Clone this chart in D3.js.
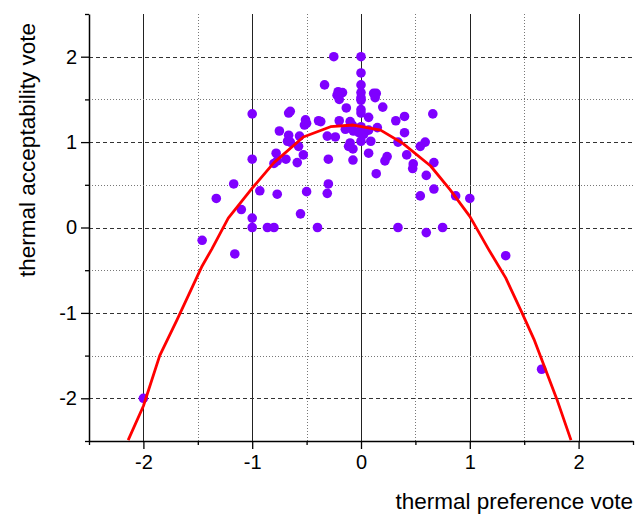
<!DOCTYPE html>
<html>
<head>
<meta charset="utf-8">
<script src="https://cdn.jsdelivr.net/npm/d3@7"></script>
<style>
  body { margin: 0; background: #fff; }
  svg { display: block; font-family: "Liberation Sans", Arial, sans-serif; }
</style>
</head>
<body>
<svg id="chart" width="635" height="516"></svg>
<script>
// thermal preference vote (x) / thermal acceptability vote (y)
const prefVote = [
  -0.25, 0, 0, 0, -0.335, -0.21, -0.17, -0.22, -0.2, 0,
  0, 0, -0.135, 0, 0, -1.0, -0.665, -0.65, 0.07, 0.116,
  0.14, 0.13, 0.2, 0.32, 0.40, 0.66, -0.51, -0.52, -0.50, -0.39,
  -0.37, -0.2, -0.1, -0.08, -0.144, -0.07, 0, -0.02, 0.024, 0.04,
  0.07, 0.15, -0.75, -0.665, -0.675, -0.65, -0.565, -0.574, -0.31, -0.236,
  0, -0.1, -0.114, -0.074, 0.09, 0.07, -0.074, 0.34, 0.40, 0.545,
  0.59, 0.42, 0.24, 0.22, 0.48, 0.475, 0.14, 0.67, 0.60, 0.67,
  0.545, 0.87, 1.0, 0.34, 0.60, 0.75, 1.33, 1.66, -1.0, -0.78,
  -0.80, -0.77, -0.69, -0.53, -0.586, -0.30, -1.17, -1.33, -0.93, -0.77,
  -0.50, -0.30, -0.31, -1.10, -1.0, -0.556, -1.0, -0.86, -0.80, -0.40,
  -1.46, -1.16, -2.0
]
const acceptVote = [
  2.0, 2.0, 1.81, 1.67, 1.67, 1.59, 1.58, 1.55, 1.50, 1.58,
  1.52, 1.49, 1.40, 1.38, 1.34, 1.33, 1.34, 1.36, 1.29, 1.57,
  1.57, 1.52, 1.41, 1.25, 1.30, 1.33, 1.26, 1.20, 1.22, 1.25,
  1.24, 1.25, 1.24, 1.20, 1.15, 1.13, 1.18, 1.11, 1.09, 1.13,
  1.14, 1.17, 1.13, 1.08, 1.01, 1.0, 1.07, 0.95, 1.07, 1.06,
  1.01, 0.99, 0.95, 0.92, 1.01, 0.87, 0.79, 1.0, 1.11, 0.95,
  1.0, 0.85, 0.83, 0.78, 0.745, 0.69, 0.63, 0.76, 0.61, 0.45,
  0.37, 0.37, 0.34, 0, -0.06, 0, -0.33, -1.66, 0.80, 0.87,
  0.75, 0.78, 0.80, 0.85, 0.76, 0.80, 0.51, 0.34, 0.43, 0.39,
  0.42, 0.51, 0.40, 0.21, 0.11, 0.16, 0, 0, 0, 0,
  -0.15, -0.31, -2.0
]

// fitted curve
const fitX = [-2.14, -2.0, -1.85, -1.69, -1.46, -1.37, -1.22, -1.0, -0.80, -0.53, -0.28, -0.07,
  0.18, 0.39, 0.64, 0.82, 1.0, 1.17, 1.33, 1.48, 1.59, 1.80, 1.93]
const fitY = [-2.49, -2.09, -1.5, -1.08, -0.45, -0.25, 0.11, 0.46, 0.76, 1.06, 1.18, 1.20,
  1.14, 0.98, 0.72, 0.44, 0.13, -0.25, -0.59, -1.0, -1.31, -2.01, -2.49]

const tickVals = [-2.5, -2, -1.5, -1, -0.5, 0, 0.5, 1, 1.5, 2, 2.5]
const majorTicks = [-2, -1, 0, 1, 2]

const svg = d3.select('#chart')
const plotLeft = 89, plotRight = 633, plotTop = 14, plotBottom = 441

const x = d3.scaleLinear().domain([-2.5, 2.5]).range([plotLeft, plotRight])
const y = d3.scaleLinear().domain([-2.5, 2.5]).range([plotBottom, plotTop])

const isMajor = v => majorTicks.includes(v)

// grid
const grid = svg.append('g')
grid.selectAll('line.vg')
  .data(tickVals.filter(v => v > -2.5 && v < 2.5))
  .join('line')
  .attr('class', 'vg')
  .attr('x1', d => Math.round(x(d)) + 0.5)
  .attr('x2', d => Math.round(x(d)) + 0.5)
  .attr('y1', plotTop)
  .attr('y2', plotBottom)
  .attr('stroke', d => isMajor(d) ? '#222' : '#777')
  .attr('stroke-width', 1)
  .attr('stroke-dasharray', d => isMajor(d) ? null : '1,2')

grid.selectAll('line.hg')
  .data(tickVals.filter(v => v > -2.5 && v < 2.5))
  .join('line')
  .attr('class', 'hg')
  .attr('y1', d => Math.round(y(d)) + 0.5)
  .attr('y2', d => Math.round(y(d)) + 0.5)
  .attr('x1', plotLeft)
  .attr('x2', plotRight)
  .attr('stroke', d => isMajor(d) ? '#333' : '#777')
  .attr('stroke-width', 1)
  .attr('stroke-dasharray', d => isMajor(d) ? '4,3' : '1,2')

// axes
const fmt = d => isMajor(d) ? d3.format('d')(d).replace('−', '-') : ''

const xAxis = svg.append('g')
  .attr('transform', `translate(0,${plotBottom})`)
  .call(d3.axisBottom(x).tickValues(tickVals).tickFormat(fmt).tickSize(8).tickSizeOuter(0).tickPadding(6))
const yAxis = svg.append('g')
  .attr('transform', `translate(${plotLeft},0)`)
  .call(d3.axisLeft(y).tickValues(tickVals).tickFormat(fmt).tickSize(8).tickSizeOuter(0).tickPadding(4))

;[xAxis, yAxis].forEach(ax => {
  ax.select('.domain').attr('stroke', '#000').attr('stroke-width', 1.5)
  ax.selectAll('.tick line').attr('stroke', '#000').attr('stroke-width', 1.3)
  ax.selectAll('.tick text').attr('fill', '#000').style('font-size', '20px')
})
xAxis.selectAll('.tick line').attr('y2', d => isMajor(d) ? 8 : 4)
yAxis.selectAll('.tick line').attr('x2', d => isMajor(d) ? -8 : -4)

// clip for the fitted curve
svg.append('clipPath').attr('id', 'plot-clip')
  .append('rect')
  .attr('x', plotLeft).attr('y', plotTop)
  .attr('width', plotRight - plotLeft).attr('height', plotBottom - plotTop)

// points
svg.append('g')
  .selectAll('circle')
  .data(prefVote.map((v, i) => [v, acceptVote[i]]))
  .join('circle')
  .attr('cx', d => x(d[0]))
  .attr('cy', d => y(d[1]))
  .attr('r', 4.8)
  .attr('fill', '#7f00ff')

// fitted curve
const line = d3.line()
  .x(d => x(d[0]))
  .y(d => y(d[1]))
svg.append('path')
  .datum(fitX.map((v, i) => [v, fitY[i]]))
  .attr('clip-path', 'url(#plot-clip)')
  .attr('d', line)
  .attr('fill', 'none')
  .attr('stroke', '#ff0000')
  .attr('stroke-width', 2.8)
  .attr('stroke-linejoin', 'round')

// axis titles
svg.append('text')
  .attr('x', 633)
  .attr('y', 509)
  .attr('text-anchor', 'end')
  .style('font-size', '22.5px')
  .text('thermal preference vote')

svg.append('text')
  .attr('transform', `translate(35,150) rotate(-90)`)
  .attr('text-anchor', 'middle')
  .style('font-size', '22.5px')
  .text('thermal acceptability vote')
</script>
</body>
</html>
